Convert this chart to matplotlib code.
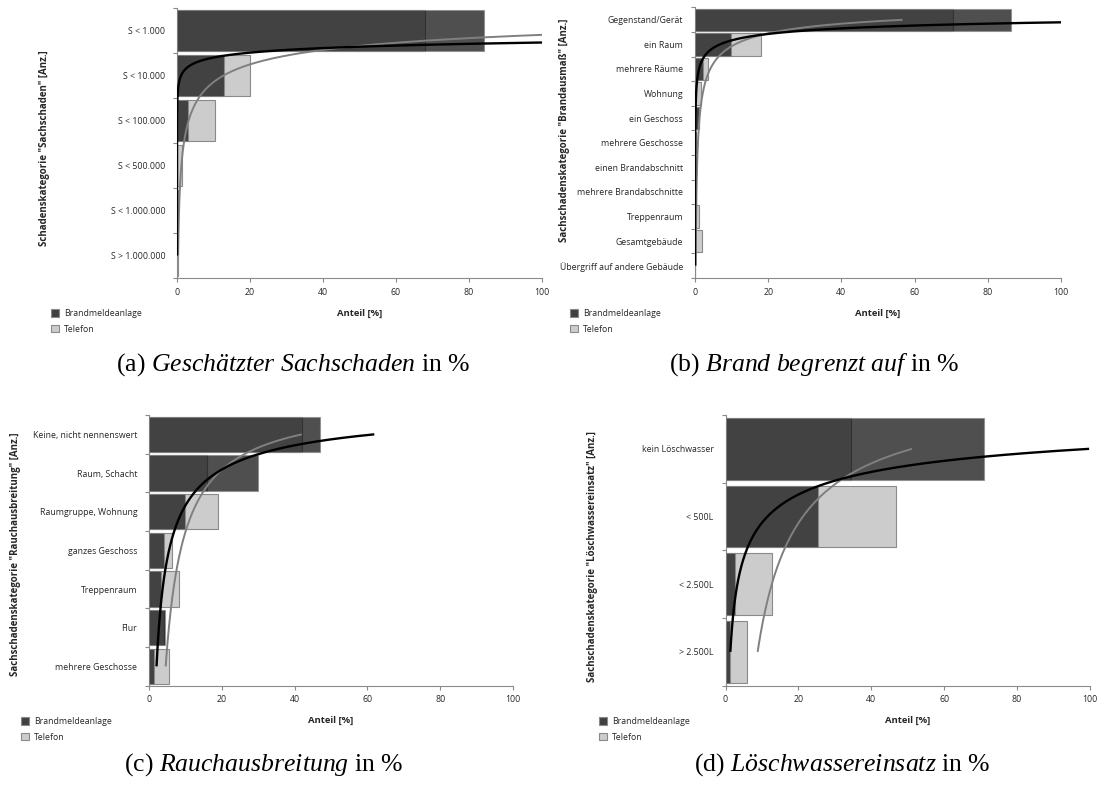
import numpy as np
import matplotlib
matplotlib.use("Agg")
import matplotlib.pyplot as plt
from matplotlib.patches import Patch

W, H = 1098, 785

# (a) Geschätzter Sachschaden
cats_a = ["S < 1.000", "S < 10.000", "S < 100.000", "S < 500.000", "S < 1.000.000", "S > 1.000.000"]
bma_a = [84.0, 13.0, 3.0, 0.00003, 0.00003, 0.00003]
tel_a = [68.0, 20.0, 10.5, 1.3, 0.24, 0.24]

# (b) Brand begrenzt auf
cats_b = ["Gegenstand/Gerät", "ein Raum", "mehrere Räume", "Wohnung", "ein Geschoss",
          "mehrere Geschosse", "einen Brandabschnitt", "mehrere Brandabschnitte",
          "Treppenraum", "Gesamtgebäude", "Übergriff auf andere Gebäude"]
bma_b = [86.4, 9.7, 2.1, 0.3, 1.2, 0.007, 0.007, 0.007, 0.007, 0.007, 0.007]
tel_b = [70.5, 18.0, 3.5, 1.6, 1.2, 0.3, 0.3, 0.1, 1.2, 1.8, 0.1]

# (c) Rauchausbreitung
cats_c = ["Keine, nicht nennenswert", "Raum, Schacht", "Raumgruppe, Wohnung",
          "ganzes Geschoss", "Treppenraum", "Flur", "mehrere Geschosse"]
bma_c = [47.0, 30.0, 10.0, 4.0, 3.2, 4.4, 1.5]
tel_c = [42.0, 16.0, 19.0, 6.2, 8.2, 4.0, 5.4]

# (d) Löschwassereinsatz
cats_d = ["kein Löschwasser", "< 500L", "< 2.500L", "> 2.500L"]
bma_d = [70.8, 25.5, 2.5, 1.1]
tel_d = [34.4, 46.9, 12.8, 5.9]

series_names = ["Brandmeldeanlage", "Telefon"]

plt.rcParams['font.family'] = ['Open Sans', 'DejaVu Sans']
plt.rcParams['mathtext.fontset'] = 'custom'
plt.rcParams['mathtext.rm'] = 'Liberation Serif'
plt.rcParams['mathtext.it'] = 'Liberation Serif:italic'

DARK = '#141414'
LIGHT = '#cccccc'
EDGE = '#8a8a8a'
TXT = '#262626'
FS = 6.3


def px_box(x0, y0, x1, y1):
    return [x0 / W, 1 - y1 / H, (x1 - x0) / W, (y1 - y0) / H]


def panel(fig, box, cats, bma, tel, ylabel, ylab_xy, legend_xy, caption, cap_xy):
    ax = fig.add_axes(px_box(*box))
    n = len(cats)
    pos = np.arange(1, n + 1)

    ax.barh(pos, tel, height=0.91, color=LIGHT, edgecolor=EDGE, linewidth=0.8, zorder=2)
    ax.barh(pos, bma, height=0.91, color=DARK, alpha=0.75, edgecolor=EDGE, linewidth=0.8, zorder=3)

    # power trend lines over the category index (like the spreadsheet trendline)
    kk = np.linspace(1, n, 400)
    for vals, col, lw in ((tel, '#808080', 1.4), (bma, 'black', 1.7)):
        p, lnc = np.polyfit(np.log(pos), np.log(vals), 1)
        ax.plot(np.exp(lnc) * kk ** p, kk, color=col, lw=lw, zorder=4, solid_capstyle='butt')

    ax.set_xlim(0, 100)
    ax.set_ylim(n + 0.5, 0.5)
    ax.set_yticks(pos)
    ax.set_yticklabels(cats)
    ax.set_yticks(np.arange(0.5, n + 1), minor=True)
    ax.tick_params(axis='y', which='major', length=0, pad=8.5, labelsize=FS, labelcolor=TXT)
    ax.tick_params(axis='y', which='minor', length=3, width=0.8, color=EDGE)
    ax.set_xticks(range(0, 101, 20))
    ax.tick_params(axis='x', length=3, width=0.8, color=EDGE, pad=4, labelsize=FS, labelcolor=TXT)
    for s in ('top', 'right'):
        ax.spines[s].set_visible(False)
    for s in ('left', 'bottom'):
        ax.spines[s].set_color(EDGE)
        ax.spines[s].set_linewidth(0.8)

    xc = (box[0] + box[2]) / 2
    fig.text(xc / W, 1 - (box[3] + 35) / H, "Anteil [%]", ha='center', va='center',
             fontsize=FS + 0.5, fontweight='bold', color=TXT)
    fig.text(ylab_xy[0] / W, 1 - ylab_xy[1] / H, ylabel, rotation=90, ha='center', va='center',
             fontsize=7.0, fontweight='bold', color=TXT)

    handles = [Patch(facecolor='#404040', edgecolor=EDGE, linewidth=0.8),
               Patch(facecolor=LIGHT, edgecolor=EDGE, linewidth=0.8)]
    fig.legend(handles, series_names, loc='upper left',
               bbox_to_anchor=(legend_xy[0] / W, 1 - legend_xy[1] / H),
               frameon=False, fontsize=FS, handlelength=0.95, handleheight=0.95,
               handletextpad=0.5, labelspacing=0.75, borderpad=0, borderaxespad=0,
               labelcolor=TXT)

    fig.text(cap_xy[0] / W, 1 - cap_xy[1] / H, caption, ha='center', va='center',
             fontsize=18.5, family='Liberation Serif', color='black')
    return ax


fig = plt.figure(figsize=(W / 100, H / 100), dpi=100)

panel(fig, (177, 8.3, 542, 278), cats_a, bma_a, tel_a,
      'Schadenskategorie "Sachschaden" [Anz.]', (45, 148), (51, 309),
      r'(a) $\mathit{Geschätzter\ Sachschaden}$ in %', (293, 365))
panel(fig, (695, 7.5, 1061, 278), cats_b, bma_b, tel_b,
      'Sachschadenskategorie "Brandausmaß" [Anz.]', (564, 130), (570, 309),
      r'(b) $\mathit{Brand\ begrenzt\ auf}$ in %', (814, 365))
panel(fig, (149, 415, 513, 685.7), cats_c, bma_c, tel_c,
      'Sachschadenskategorie "Rauchausbreitung" [Anz.]', (16, 554), (21, 717),
      r'(c) $\mathit{Rauchausbreitung}$ in %', (264, 765))
panel(fig, (725.5, 415, 1090, 685.7), cats_d, bma_d, tel_d,
      'Sachschadenskategorie "Löschwassereinsatz" [Anz.]', (592, 557), (599, 717),
      r'(d) $\mathit{Löschwassereinsatz}$ in %', (842, 765))

fig.savefig("out.png", dpi=100)
